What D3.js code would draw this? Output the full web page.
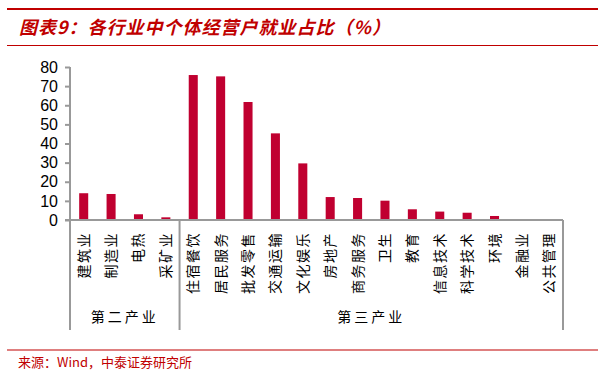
<!DOCTYPE html>
<html>
<head>
<meta charset="utf-8">
<script src="https://cdn.jsdelivr.net/npm/d3@7"></script>
<style>
  body { margin: 0; background: #fff; }
  svg { display: block; }
</style>
</head>
<body>
<div id="chart"></div>
<script>
// values
const categories = ["建筑业", "制造业", "电热", "采矿业", "住宿餐饮", "居民服务", "批发零售", "交通运输",
    "文化娱乐", "房地产", "商务服务", "卫生", "教育", "信息技术", "科学技术", "环境", "金融业", "公共管理"];
const values = [14.0, 13.6, 3.0, 1.4, 75.8, 75.1, 61.7, 45.3, 29.6, 12.0, 11.5, 10.1, 5.6, 4.4, 3.8, 2.1, 0, 0];
const groups = [
    { name: "第二产业", first: "建筑业", last: "采矿业" },
    { name: "第三产业", first: "住宿餐饮", last: "公共管理" }
];
const yTicks = [0, 10, 20, 30, 40, 50, 60, 70, 80];
const title = "图表9：各行业中个体经营户就业占比（%）";
const source = "来源：Wind，中泰证券研究所";

const W = 608, H = 377;
const red = "#c00000";
const barColor = "#c00030";
const axisColor = "#999";
const cjk = "'Noto Sans CJK SC', sans-serif";

const svg = d3.select("#chart").append("svg")
    .attr("width", W)
    .attr("height", H);

// header and footer rules
svg.append("line").attr("x1", 7).attr("x2", 598).attr("y1", 9).attr("y2", 9)
    .attr("stroke", red).attr("stroke-width", 2.2);
svg.append("line").attr("x1", 7).attr("x2", 598).attr("y1", 45.5).attr("y2", 45.5)
    .attr("stroke", red).attr("stroke-width", 1.2);
svg.append("line").attr("x1", 7).attr("x2", 598).attr("y1", 350).attr("y2", 350)
    .attr("stroke", red).attr("stroke-width", 1.2);

svg.append("text")
    .attr("x", 19).attr("y", 34)
    .attr("fill", red)
    .attr("font-family", cjk)
    .attr("font-size", 18)
    .attr("font-weight", "bold")
    .attr("font-style", "italic")
    .attr("letter-spacing", 1)
    .text(title);

svg.append("text")
    .attr("x", 18).attr("y", 367)
    .attr("fill", red)
    .attr("font-family", cjk)
    .attr("font-size", 13)
    .text(source);

// scales
const x = d3.scaleBand()
    .domain(categories)
    .range([70, 563])
    .paddingInner(0.67)
    .paddingOuter(0.335);

const y = d3.scaleLinear()
    .domain([0, 80])
    .range([220, 67]);

// bars
svg.selectAll(".bar")
    .data(categories)
    .enter()
    .append("rect")
    .attr("class", "bar")
    .attr("x", d => x(d))
    .attr("y", (d, i) => y(values[i]))
    .attr("width", x.bandwidth())
    .attr("height", (d, i) => y(0) - y(values[i]))
    .attr("fill", barColor);

// y axis
const yAxis = svg.append("g")
    .attr("transform", "translate(70,0)")
    .call(d3.axisLeft(y).tickValues(yTicks).tickSize(5).tickPadding(7));
yAxis.select(".domain").attr("stroke", axisColor).attr("stroke-width", 2)
    .attr("d", `M0,${y(80)}V${y(0)}`);
yAxis.selectAll(".tick line").attr("stroke", axisColor).attr("stroke-width", 2);
yAxis.selectAll(".tick text")
    .attr("fill", "#000")
    .attr("font-family", "'Liberation Sans', Arial, sans-serif")
    .attr("font-size", 16);

// x axis line
svg.append("line")
    .attr("x1", 65).attr("x2", x.range()[1])
    .attr("y1", y(0)).attr("y2", y(0))
    .attr("stroke", axisColor).attr("stroke-width", 2);

// category labels, rotated to read bottom-to-top
svg.selectAll(".cat")
    .data(categories)
    .enter()
    .append("text")
    .attr("class", "cat")
    .attr("transform", d => `translate(${x(d) + x.bandwidth() / 2 + 5},232) rotate(-90)`)
    .attr("text-anchor", "end")
    .attr("font-family", cjk)
    .attr("font-size", 14)
    .attr("letter-spacing", 1.5)
    .attr("fill", "#000")
    .text(d => d);

// group separators and names
const step = x.step();
const bounds = [x.range()[0]];
groups.forEach(g => {
    bounds.push(x(g.last) + x.bandwidth() + step * x.paddingInner() / 2);
});
bounds[bounds.length - 1] = x.range()[1];

svg.selectAll(".sep")
    .data(bounds)
    .enter()
    .append("line")
    .attr("class", "sep")
    .attr("x1", d => d).attr("x2", d => d)
    .attr("y1", y(0)).attr("y2", 330)
    .attr("stroke", axisColor).attr("stroke-width", 2);

svg.selectAll(".grp")
    .data(groups)
    .enter()
    .append("text")
    .attr("class", "grp")
    .attr("x", (g, i) => (bounds[i] + bounds[i + 1]) / 2)
    .attr("y", 322)
    .attr("text-anchor", "middle")
    .attr("font-family", cjk)
    .attr("font-size", 14)
    .attr("letter-spacing", 3)
    .attr("fill", "#000")
    .text(g => g.name);
</script>
</body>
</html>
